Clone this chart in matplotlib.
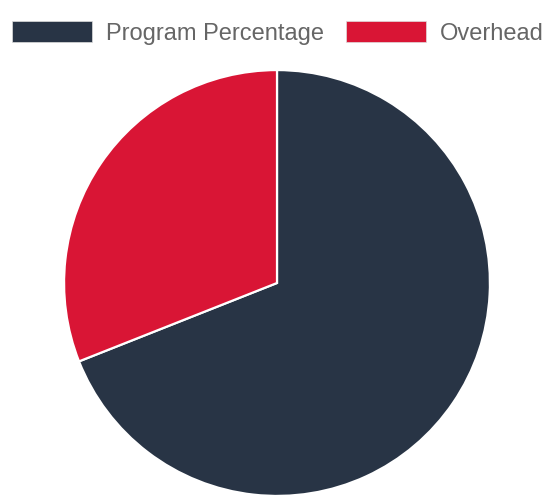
import matplotlib.pyplot as plt
from matplotlib.patches import Patch

labels = ["Program Percentage", "Overhead"]
values = [69, 31]
colors = ["#283445", "#d91535"]

plt.rcParams["font.family"] = ["Liberation Sans", "DejaVu Sans"]

fig = plt.figure(figsize=(5.44, 4.97), dpi=100)
ax = fig.add_axes([63 / 544, 0, 428 / 544, 428 / 497])

ax.pie(
    values,
    colors=colors,
    startangle=90,
    counterclock=False,
    radius=1,
    wedgeprops={"edgecolor": "white", "linewidth": 1.6},
)
ax.set_xlim(-1.005, 1.005)
ax.set_ylim(-1.005, 1.005)
ax.set_aspect("equal")
ax.axis("off")

handles = [Patch(facecolor=c, edgecolor="#dddddd", linewidth=0.5) for c in colors]
fig.legend(
    handles,
    labels,
    loc="upper left",
    bbox_to_anchor=(12 / 544, 1 - 21 / 497),
    ncol=2,
    frameon=False,
    fontsize=17,
    labelcolor="#666666",
    handlelength=3.39,
    handleheight=1.02,
    handletextpad=0.59,
    columnspacing=0.93,
    borderpad=0,
    borderaxespad=0,
)

fig.savefig("out.png", dpi=100)
